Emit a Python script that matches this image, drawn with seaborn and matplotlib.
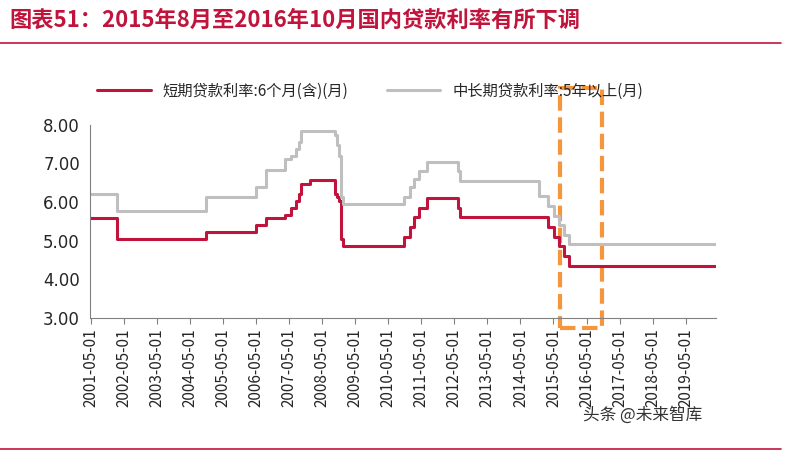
import matplotlib
matplotlib.use("Agg")
import matplotlib.pyplot as plt
import matplotlib.dates as mdates
import seaborn as sns
import pandas as pd
from matplotlib.patches import Rectangle

dates = ["2001-01-01","2002-02-21","2004-10-29","2006-04-28","2006-08-19","2007-03-18","2007-05-19",
         "2007-07-21","2007-08-22","2007-09-15","2007-12-21","2008-09-16","2008-10-09","2008-10-30",
         "2008-11-27","2008-12-23","2010-10-20","2010-12-26","2011-02-09","2011-04-06","2011-07-07",
         "2012-06-08","2012-07-06","2014-11-22","2015-03-01","2015-05-11","2015-06-28","2015-08-26",
         "2015-10-24","2020-03-31"]
short_rate = [5.58,5.04,5.22,5.40,5.58,5.67,5.85,6.03,6.21,6.48,6.57,6.21,6.12,6.03,5.04,4.86,
              5.10,5.35,5.60,5.85,6.10,5.85,5.60,5.60,5.35,5.10,4.85,4.60,4.35,4.35]
long_rate = [6.21,5.76,6.12,6.39,6.84,7.11,7.20,7.38,7.56,7.83,7.83,7.74,7.47,7.20,6.12,5.94,
             6.14,6.40,6.60,6.80,7.05,6.80,6.55,6.15,5.90,5.65,5.40,5.15,4.90,4.90]
label_short = "短期贷款利率:6个月(含)(月)"
label_long = "中长期贷款利率:5年以上(月)"
title = "图表51：2015年8月至2016年10月国内贷款利率有所下调"

sns.set_style("white")
plt.rcParams['font.family'] = ['Noto Sans CJK SC', 'DejaVu Sans']

df = pd.DataFrame({"date": pd.to_datetime(dates), "s": short_rate, "l": long_rate})
fig = plt.figure(figsize=(7.93, 4.54), dpi=100)
ax = fig.add_axes([0.113, 0.30, 0.79, 0.425])
sns.lineplot(data=df, x="date", y="s", ax=ax, color="#C0143C", lw=2.2, drawstyle="steps-post", label=label_short)
sns.lineplot(data=df, x="date", y="l", ax=ax, color="#BFBFBF", lw=2.2, drawstyle="steps-post", label=label_long)
ax.set_ylim(3, 8)
ax.set_yticks([3,4,5,6,7,8])
ax.set_yticklabels([f"{v:.2f}" for v in [3,4,5,6,7,8]], fontsize=12, family="DejaVu Sans")
ax.set_xlim(pd.Timestamp("2001-04-20"), pd.Timestamp("2020-03-31"))
ax.set_xticks([pd.Timestamp(f"{y}-05-01") for y in range(2001, 2020)])
ax.xaxis.set_major_formatter(mdates.DateFormatter("%Y-%m-%d"))
plt.setp(ax.get_xticklabels(), rotation=90, fontsize=11)
ax.set_xlabel(""); ax.set_ylabel("")
for s in ["top", "right"]:
    ax.spines[s].set_visible(False)
for s in ["left", "bottom"]:
    ax.spines[s].set_color("#808080")
ax.tick_params(axis="x", length=4, color="#808080", direction="out", bottom=True)
ax.legend(loc="lower left", bbox_to_anchor=(-0.01, 1.06), ncol=2, frameon=False, fontsize=11,
          handlelength=3.5, columnspacing=2.5)
x0 = mdates.date2num(pd.Timestamp("2015-07-10")); x1 = mdates.date2num(pd.Timestamp("2016-10-15"))
ax.add_patch(Rectangle((x0, 2.74), x1 - x0, 8.96 - 2.74, fill=False, ls="--", lw=3,
                       ec="#F5963C", clip_on=False))
fig.text(0.012, 0.955, title, fontsize=16, fontweight="bold", style="italic", color="#C0143C", va="center")
fig.add_artist(plt.Line2D([0.0, 0.985], [0.905, 0.905], color="#C0143C", lw=1.2))
fig.add_artist(plt.Line2D([0.0, 0.985], [0.01, 0.01], color="#C0143C", lw=1.2))
fig.text(0.735, 0.075, "头条 @未来智库", fontsize=12, color="#333333")
fig.savefig("out.png", dpi=100)
